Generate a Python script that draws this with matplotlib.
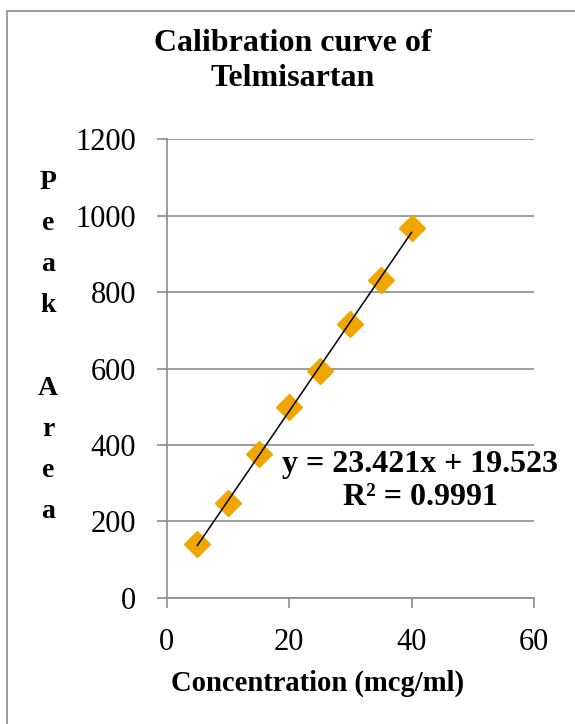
import matplotlib.pyplot as plt
from matplotlib.patches import Rectangle

plt.rcParams['font.family'] = ['Liberation Serif', 'DejaVu Serif']

# данные калибровки
conc = [5, 10, 15, 20, 25, 30, 35, 40]
peak_area = [141, 247, 376, 498, 594, 716, 832, 969]
slope, intercept = 23.421, 19.523
r2 = 0.9991

W, H = 575, 724
fig = plt.figure(figsize=(W / 100, H / 100), dpi=100)

# рамка вокруг графика (как в Excel)
fig.patches.append(Rectangle((7 / W, -0.1), 1.2, (H - 11) / H + 0.1,
                             transform=fig.transFigure, fill=False,
                             edgecolor='#8a8a8a', linewidth=1.2))

ax = fig.add_axes([166.7 / W, 1 - 597.7 / H, (534 - 166.7) / W, (597.7 - 139.3) / H])
ax.set_xlim(0, 60)
ax.set_ylim(0, 1200)
ax.set_xticks([0, 20, 40, 60])
ax.set_yticks(range(0, 1201, 200))

ax.grid(axis='y', color='#8c8c8c', linewidth=1.2)
ax.set_axisbelow(True)
for s in ['top', 'right']:
    ax.spines[s].set_visible(False)
for s in ['left', 'bottom']:
    ax.spines[s].set_color('#8c8c8c')
    ax.spines[s].set_linewidth(1.2)
ax.tick_params(direction='out', length=7, width=1.2, color='#8c8c8c',
               labelsize=22, pad=15)

ax.plot(conc, peak_area, 'D', color='#efa600', markersize=13.5, zorder=3)
fit_x = [conc[0], conc[-1]]
fit_y = [slope * x + intercept for x in fit_x]
ax.plot(fit_x, fit_y, color='black', linewidth=1.1, zorder=4)

fig.text(293 / W, 1 - 61 / H, 'Calibration curve of\nTelmisartan', ha='center', va='center',
         fontsize=23, fontweight='bold', linespacing=1.3)
fig.text(318 / W, 1 - 683 / H, 'Concentration (mcg/ml)', ha='center', va='center',
         fontsize=20.6, fontweight='bold')
fig.text(48 / W, 1 - 347 / H, 'P\ne\na\nk\n\nA\nr\ne\na', ha='center', va='center',
         fontsize=20, fontweight='bold', linespacing=1.85)
fig.text(420 / W, 1 - 481 / H, f'y = {slope}x + {intercept}\nR² = {r2}', ha='center', va='center',
         fontsize=23, fontweight='bold', linespacing=1.22)

fig.savefig('out.png', dpi=100)
